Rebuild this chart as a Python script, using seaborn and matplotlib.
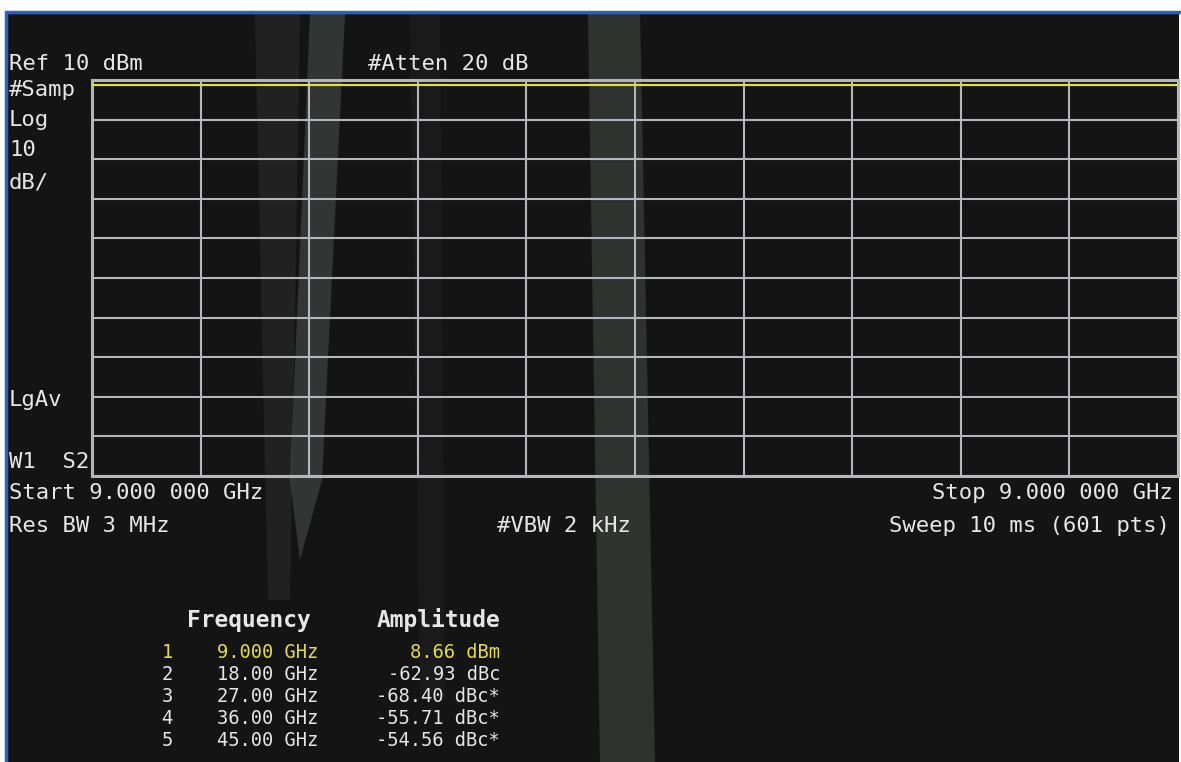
import numpy as np
import pandas as pd
import seaborn as sns
import matplotlib
matplotlib.use("Agg")
from matplotlib import pyplot as plt
from matplotlib.patches import Rectangle, Polygon
from matplotlib.lines import Line2D

# zero-span sweep: time axis (ms) vs amplitude (dBm)
sweep_ms = [0.0, 10.0]
trace_dbm = [8.66, 8.66]
ref_level = 10
db_per_div = 10
n_div = 10

marker_ids = ["1", "2", "3", "4", "5"]
marker_freqs = ["9.000 GHz", "18.00 GHz", "27.00 GHz", "36.00 GHz", "45.00 GHz"]
marker_amps = ["8.66 dBm", "-62.93 dBc", "-68.40 dBc*", "-55.71 dBc*", "-54.56 dBc*"]

W, H = 1181, 762
BG = "#141414"
FG = "#e6e6e6"
GRID = "#b4b6bc"
YEL = "#e2dc4a"


def px(x, y):
    return x / W, 1 - y / H


sns.set_theme(style="dark")
plt.rcParams["font.family"] = ["DejaVu Sans Mono", "DejaVu Sans"]

fig = plt.figure(figsize=(W / 100, H / 100), dpi=100, facecolor="white")

# instrument screen background + scan border
fig.patches.append(Rectangle(px(6, 762), (1179 - 6) / W, (762 - 12) / H,
                             transform=fig.transFigure, facecolor=BG,
                             edgecolor="none", zorder=-2))
fig.lines.append(Line2D([6 / W, 1181 / W], [1 - 12 / H] * 2, transform=fig.transFigure,
                        color="#2a62c4", lw=2.5, zorder=1))
fig.lines.append(Line2D([6 / W] * 2, [0, 1 - 12 / H], transform=fig.transFigure,
                        color="#2a62c4", lw=2.5, zorder=1))

# faint scanner streaks
for pts, a in [([(310, 14), (345, 14), (322, 480), (300, 560), (290, 480)], 0.26),
               ([(255, 14), (300, 14), (290, 600), (268, 600)], 0.10),
               ([(588, 14), (640, 14), (655, 762), (600, 762)], 0.24),
               ([(410, 14), (440, 14), (445, 700), (420, 700)], 0.05)]:
    fig.patches.append(Polygon([px(x, y) for x, y in pts], closed=True,
                               transform=fig.transFigure, facecolor="#8a948c",
                               edgecolor="none", alpha=a, zorder=-1))

ax = fig.add_axes([92 / W, 1 - 476 / H, (1178 - 92) / W, (476 - 80) / H])
ax.set_facecolor("none")
ax.set_zorder(2)

df = pd.DataFrame({"t": sweep_ms, "amp": trace_dbm})
sns.lineplot(data=df, x="t", y="amp", color=YEL, lw=1.6, ax=ax, zorder=5)

bottom = ref_level - db_per_div * n_div
ax.set_xlim(sweep_ms[0], sweep_ms[-1])
ax.set_ylim(bottom, ref_level)
ax.set_xticks(np.linspace(sweep_ms[0], sweep_ms[-1], n_div + 1))
ax.set_yticks(np.arange(bottom, ref_level + 1, db_per_div))
ax.set_xticklabels([])
ax.set_yticklabels([])
ax.tick_params(length=0)
ax.set_xlabel("")
ax.set_ylabel("")
ax.grid(True, color=GRID, lw=1.5)
for s in ax.spines.values():
    s.set_visible(True)
    s.set_color(GRID)
    s.set_linewidth(2.2)

fs = 16
left_labels = [("Ref 10 dBm", 64), ("#Samp", 90), ("Log", 120), ("10", 150),
               ("dB/", 182), ("LgAv", 400), ("W1  S2", 462),
               ("Start 9.000 000 GHz", 493), ("Res BW 3 MHz", 526)]
for txt, y in left_labels:
    fig.text(*px(9, y), txt, color=FG, fontsize=fs, va="center", ha="left")

fig.text(*px(368, 64), "#Atten 20 dB", color=FG, fontsize=fs, va="center", ha="left")
fig.text(*px(497, 526), "#VBW 2 kHz", color=FG, fontsize=fs, va="center", ha="left")
fig.text(*px(1173, 493), "Stop 9.000 000 GHz", color=FG, fontsize=fs, va="center", ha="right")
fig.text(*px(1170, 526), "Sweep 10 ms (601 pts)", color=FG, fontsize=fs, va="center", ha="right")

# marker table
fig.text(*px(249, 620), "Frequency", color=FG, fontsize=16.5, fontweight="bold",
         va="center", ha="center")
fig.text(*px(500, 620), "Amplitude", color=FG, fontsize=16.5, fontweight="bold",
         va="center", ha="right")
for i, (mid, fq, am) in enumerate(zip(marker_ids, marker_freqs, marker_amps)):
    y = 653 + 22 * i
    c = YEL if i == 0 else FG
    fig.text(*px(167, y), mid, color=c, fontsize=13.5, va="center", ha="center")
    fig.text(*px(318, y), fq, color=c, fontsize=13.5, va="center", ha="right")
    fig.text(*px(500, y), am, color=c, fontsize=13.5, va="center", ha="right")

fig.savefig("out.png", dpi=100, facecolor=fig.get_facecolor())
